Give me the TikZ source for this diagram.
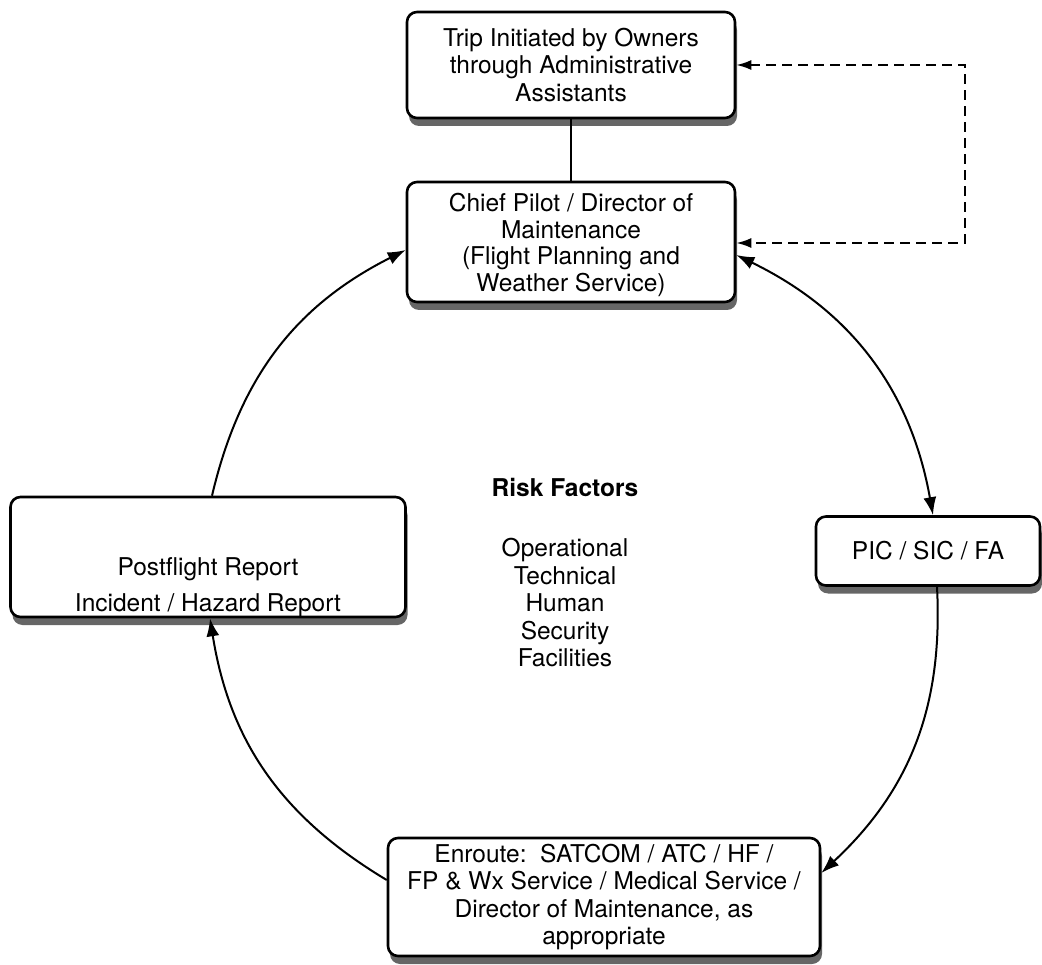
\documentclass[tikz,border=0pt]{standalone}
\usepackage{fontspec}
\setmainfont{TeX Gyre Heros}
\usetikzlibrary{arrows.meta,shadows,calc}
\begin{document}
\begin{tikzpicture}[x=1pt,y=-1pt,
  box/.style={draw, line width=2.6pt, rounded corners=10pt, fill=white, align=center,
    inner sep=0pt, font=\fontsize{24.5}{27.5}\selectfont,
    drop shadow={shadow xshift=2pt, shadow yshift=-8pt, fill=black!60, opacity=1}},
  label/.style={align=center, font=\fontsize{24.5}{27.5}\selectfont},
  link/.style={line width=2pt, -{Latex[length=18pt,width=13pt]}},
  duallink/.style={line width=2pt, {Latex[length=18pt,width=13pt]}-{Latex[length=18pt,width=13pt]}},
  dashlink/.style={line width=2pt, dash pattern=on 10pt off 6pt, {Latex[length=15pt,width=10pt]}-{Latex[length=15pt,width=10pt]}}]
\useasboundingbox (0,0) rectangle (1042,965);

\node[box, minimum width=328pt, minimum height=106pt] (trip) at (571,65)
  {Trip Initiated by Owners\\through Administrative\\Assistants};
\node[box, minimum width=328pt, minimum height=120pt] (chief) at (571,242)
  {\rule{0pt}{24pt}Chief Pilot / Director of\\[-1pt]Maintenance\\[-1pt](Flight Planning and\\[-1pt]Weather Service)};
\node[box, minimum width=395pt, minimum height=120pt] (post) at (208,557)
  {\rule{0pt}{78pt}Postflight Report\\[9pt]Incident / Hazard Report};
\node[box, minimum width=224pt, minimum height=69pt] (pic) at (928,551)
  {PIC / SIC / FA};
\node[box, minimum width=432pt, minimum height=118pt] (enr) at (604,897)
  {Enroute:~~SATCOM / ATC / HF /\\FP \& Wx Service / Medical Service /\\Director of Maintenance, as\\appropriate};

\node[label, font=\fontsize{24.5}{27.5}\selectfont\bfseries] (risk) at (565,487) {Risk Factors};
\node[label] (factors) at (565,603) {Operational\\Technical\\Human\\Security\\Facilities};

\coordinate (dr) at (965,0);
\coordinate (cdash) at ($(chief.east)+(0,1)$);
\coordinate (ccurve) at ($(chief.east)+(0,13)$);
\coordinate (cleft) at ($(chief.west)+(0,8)$);
\coordinate (eright) at ($(enr.east)+(0,-24)$);
\coordinate (eleft) at ($(enr.west)+(0,-17)$);
\coordinate (ptop) at ($(pic.north)+(5,0)$);
\coordinate (pbot) at ($(pic.south)+(9,0)$);
\coordinate (postb) at ($(post.south)+(2,0)$);
\coordinate (postt) at ($(post.north)+(4,0)$);

\draw[line width=2pt] (trip.south) -- (chief.north);
\draw[dashlink] (trip.east) -- (trip.east -| dr) -- (cdash -| dr) -- (cdash);

\draw[link] (postt) to[bend left=25] (cleft);
\draw[duallink] (ccurve) to[bend left=27] (ptop);
\draw[link] (pbot) to[bend left=25] (eright);
\draw[link] (eleft) to[bend left=25] (postb);
\end{tikzpicture}
\end{document}
